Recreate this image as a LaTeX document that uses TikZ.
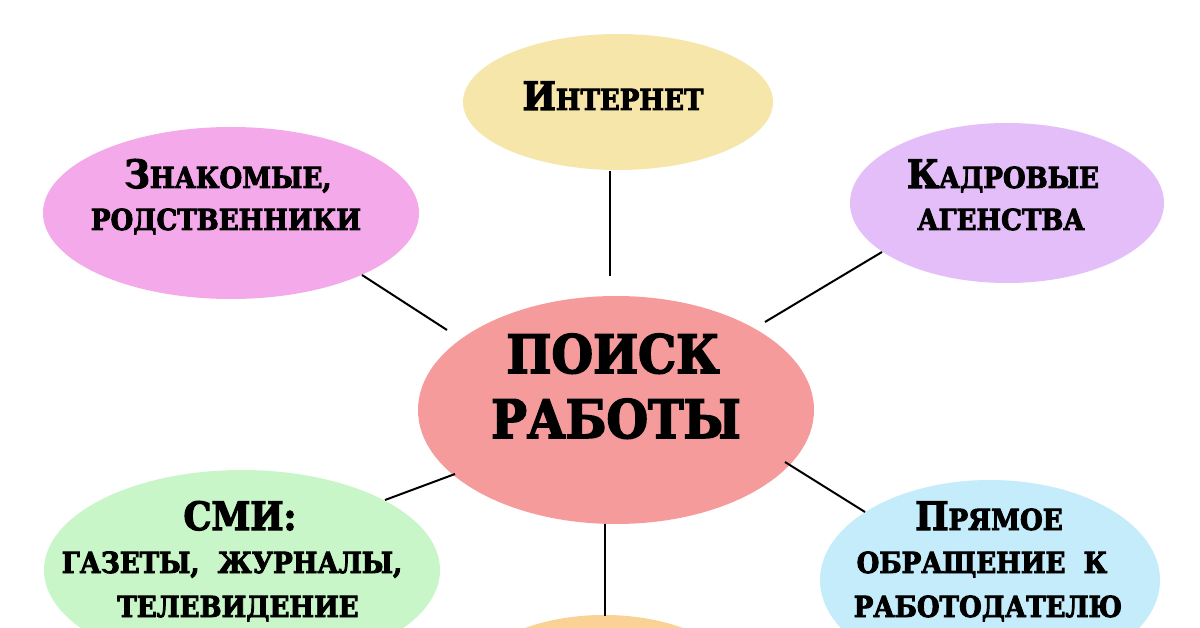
\documentclass[tikz,border=0pt]{standalone}
\usepackage{fontspec}
\setmainfont{DejaVu Serif}
\newfontfamily\heavy{DejaVu Serif}[UprightFont={* Bold}, FakeBold=3, FakeStretch=0.9]
\usetikzlibrary{shapes.geometric}
\definecolor{cCenter}{RGB}{245,155,155}
\definecolor{cTop}{RGB}{246,230,170}
\definecolor{cTL}{RGB}{244,170,234}
\definecolor{cTR}{RGB}{228,190,248}
\definecolor{cBL}{RGB}{200,246,200}
\definecolor{cBR}{RGB}{196,236,250}
\definecolor{cBot}{RGB}{250,210,150}
\newcommand\bigc[1]{{\fontsize{39}{39}\selectfont #1}}
\tikzset{
  oval/.style={ellipse, draw=none, inner sep=0pt},
  lbl/.style={anchor=base, inner sep=0pt, font=\heavy\fontsize{29}{29}\selectfont},
  mainlbl/.style={anchor=base, inner sep=0pt, font=\heavy\fontsize{53}{53}\selectfont},
  conn/.style={draw=black, line width=2pt}
}
\begin{document}
\begin{tikzpicture}[x=1pt,y=-1pt]
\useasboundingbox (0,0) rectangle (1200,628);
\fill[white] (0,0) rectangle (1200,628);
% ellipses
\node[oval, fill=cCenter, minimum width=396pt, minimum height=228pt] (center) at (616,410) {};
\node[oval, fill=cTop, minimum width=310pt, minimum height=136pt] (inet) at (618,102) {};
\node[oval, fill=cTL, minimum width=376pt, minimum height=172pt] (fam) at (231,213) {};
\node[oval, fill=cTR, minimum width=314pt, minimum height=160pt] (agen) at (1007,203) {};
\node[oval, fill=cBL, minimum width=396pt, minimum height=200pt] (smi) at (242,570) {};
\node[oval, fill=cBR, minimum width=340pt, minimum height=200pt] (direct) at (990,580) {};
\node[oval, fill=cBot, minimum width=280pt, minimum height=150pt] (bot) at (604,690) {};
% connectors
\coordinate (i1) at (610,171);
\coordinate (c1) at (610,276);
\draw[conn] (i1) -- (c1);
\coordinate (f1) at (362,275);
\coordinate (f2) at (447,330);
\draw[conn] (f1) -- (f2);
\coordinate (a1) at (882,252);
\coordinate (a2) at (765,322);
\draw[conn] (a1) -- (a2);
\coordinate (s1) at (385,500);
\coordinate (s2) at (455,474);
\draw[conn] (s1) -- (s2);
\coordinate (d1) at (865,512);
\coordinate (d2) at (785,462);
\draw[conn] (d1) -- (d2);
\coordinate (b1) at (605,524);
\coordinate (b2) at (605,616);
\draw[conn] (b1) -- (b2);
% labels
\node[mainlbl] (t1) at (613,373) {ПОИСК};
\node[mainlbl] (t2) at (616,438) {РАБОТЫ};
\node[lbl] (inetT) at (613,110) {\bigc{И}НТЕРНЕТ};
\node[lbl] (famT1) at (228,188) {\bigc{З}НАКОМЫЕ,};
\node[lbl] (famT2) at (226,230) {РОДСТВЕННИКИ};
\node[lbl] (agenT1) at (1003,188) {\bigc{К}АДРОВЫЕ};
\node[lbl] (agenT2) at (1001,230) {АГЕНСТВА};
\node[lbl] (smiT1) at (240,530) {\bigc{СМИ:}};
\node[lbl] (smiT2) at (232,573) {ГАЗЕТЫ, \ ЖУРНАЛЫ,};
\node[lbl] (smiT3) at (238,617) {ТЕЛЕВИДЕНИЕ};
\node[lbl] (dirT1) at (989,530) {\bigc{П}РЯМОЕ};
\node[lbl] (dirT2) at (982,573) {ОБРАЩЕНИЕ \ К};
\node[lbl] (dirT3) at (988,617) {РАБОТОДАТЕЛЮ};
\end{tikzpicture}
\end{document}
